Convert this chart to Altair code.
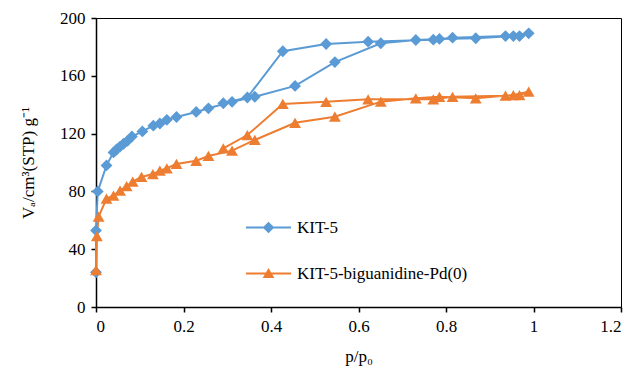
import altair as alt
import pandas as pd

# KIT-5 (adsorption then desorption, in drawing order)
kit5_x = [0, 0, 0.004, 0.024, 0.040, 0.047, 0.055, 0.063, 0.072, 0.082, 0.106, 0.131, 0.146, 0.162,
          0.184, 0.229, 0.257, 0.311, 0.363, 0.455, 0.546, 0.651, 0.731, 0.785, 0.868, 0.954, 0.989,
          0.968, 0.936, 0.815, 0.771, 0.622, 0.526, 0.427, 0.346, 0.291]
kit5_y = [24, 53, 80, 98, 107, 109, 111, 113, 115, 118, 121.5, 125.5, 127, 129.5,
          131.5, 135, 137.5, 142, 145.5, 153, 169.5, 182.5, 184.8, 185.5, 186, 187.5, 189.4,
          187.5, 187.5, 186.4, 185, 183.6, 182, 177, 145, 141]

# KIT-5-biguanidine-Pd(0)
pd_x = [0, 0.002, 0.006, 0.024, 0.040, 0.055, 0.070, 0.084, 0.104, 0.130, 0.146, 0.162, 0.184,
        0.229, 0.257, 0.311, 0.363, 0.455, 0.546, 0.651, 0.731, 0.785, 0.868, 0.954, 0.989,
        0.968, 0.936, 0.815, 0.771, 0.622, 0.526, 0.427, 0.346, 0.291]
pd_y = [25.5, 49, 62.5, 75, 77, 80.5, 83.7, 86.7, 90, 92, 94.3, 96, 99,
        101.2, 104.5, 108.2, 115.6, 127.5, 131.7, 142.1, 144.4, 145.5, 144.4, 146.7, 149,
        146.7, 146.2, 145.5, 143.7, 143.7, 142, 140.5, 119, 109.8]

series_names = ["KIT-5", "KIT-5-biguanidine-Pd(0)"]
colors = ["#5B9BD5", "#ED7D31"]

rows = []
for i, (x, y) in enumerate(zip(kit5_x, kit5_y)):
    rows.append({"x": x, "y": y, "series": series_names[0], "order": i})
for i, (x, y) in enumerate(zip(pd_x, pd_y)):
    rows.append({"x": x, "y": y, "series": series_names[1], "order": i})
df = pd.DataFrame(rows)
df["legend"] = df["series"]

font = "Liberation Serif"

xs = alt.X("x:Q", scale=alt.Scale(domain=[0, 1.2], nice=False),
           axis=alt.Axis(values=[0, 0.2, 0.4, 0.6, 0.8, 1.0, 1.2], title="p/p₀",
                         labelExpr="datum.value == 1 ? '1' : format(datum.value, '.1~f')"))
ys = alt.Y("y:Q", scale=alt.Scale(domain=[0, 200], nice=False),
           axis=alt.Axis(values=[0, 40, 80, 120, 160, 200], title="Vₐ/cm³(STP) g⁻¹"))

color_main = alt.Color("series:N", scale=alt.Scale(domain=series_names, range=colors), legend=None)

lines = alt.Chart(df).mark_line(strokeWidth=2).encode(
    x=xs, y=ys, color=color_main, order="order:Q", detail="series:N"
)
points = alt.Chart(df).mark_point(filled=True, opacity=1, size=140).encode(
    x=xs, y=ys, color=color_main,
    shape=alt.Shape("series:N", scale=alt.Scale(domain=series_names, range=["diamond", "triangle-up"]),
                    legend=None),
)

leg_diamond = "M-1,-0.045H1V0.045H-1Z M0,-0.26L0.26,0L0,0.26L-0.26,0Z"
leg_triangle = "M-1,-0.045H1V0.045H-1Z M0,-0.24L0.26,0.2L-0.26,0.2Z"

leg = alt.Legend(title=None, orient="none", legendX=150, legendY=187,
                 symbolSize=2025, symbolOpacity=1, symbolStrokeWidth=0,
                 labelFont=font, labelFontSize=17, labelColor="#000000", labelLimit=0,
                 rowPadding=15, labelOffset=6)

legend_layer = alt.Chart(df).mark_point(filled=True, opacity=0).encode(
    x=xs, y=ys,
    color=alt.Color("legend:N", scale=alt.Scale(domain=series_names, range=colors), legend=leg),
    shape=alt.Shape("legend:N", scale=alt.Scale(domain=series_names, range=[leg_diamond, leg_triangle]),
                    legend=leg),
)

chart = alt.layer(lines, points, legend_layer).resolve_scale(
    color="independent", shape="independent"
).properties(
    width=525, height=289,
    autosize=alt.AutoSizeParams(type="none"),
    padding={"left": 88, "top": 10, "right": 3, "bottom": 62},
).configure(
    font=font
).configure_view(
    stroke="#000000", strokeWidth=1
).configure_axis(
    labelFont=font, labelFontSize=17, labelColor="#000000",
    titleFont=font, titleFontSize=17, titleColor="#000000", titleFontWeight="normal",
    domainColor="#000000", domainWidth=1.5, tickColor="#000000", tickSize=5, tickWidth=1.5,
    grid=False, labelPadding=6,
).configure_axisX(titlePadding=14).configure_axisY(titlePadding=22)

chart.save("out.html", embed_options={"renderer": "svg", "actions": False})
